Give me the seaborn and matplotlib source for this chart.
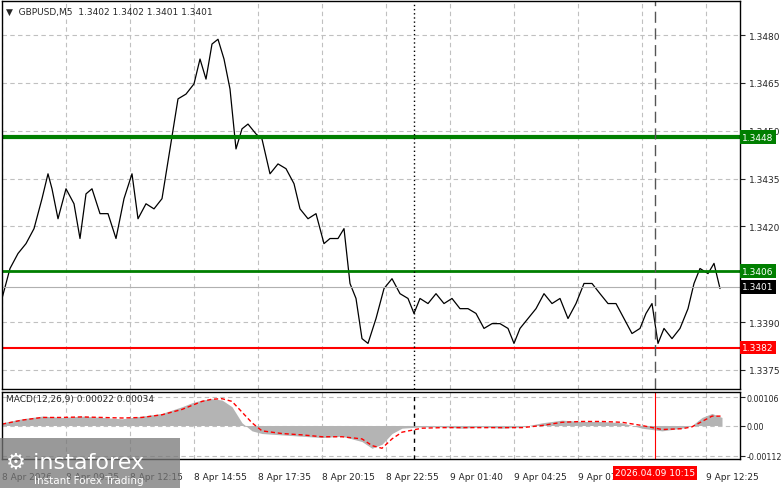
import matplotlib
matplotlib.use("Agg")
import matplotlib.pyplot as plt
import seaborn as sns
import pandas as pd
from matplotlib.patches import Rectangle

sns.set_style("white")
plt.rcParams['font.family'] = ['DejaVu Sans']

# price trace: bar index (5-min bars) and close
bars = [0,4,8,12,16,20,23,25,28,32,36,39,42,45,49,53,57,61,65,68,72,76,80,84,88,92,96,99,102,105,108,111,114,117,120,123,127,130,134,138,142,146,149,153,157,161,164,168,171,174,177,180,183,187,191,195,199,203,206,209,213,217,221,225,229,233,237,241,245,249,253,256,259,263,267,271,275,279,283,287,291,295,299,303,307,311,315,319,322,325,328,331,335,339,343,346,349,353,356,359]
close = [1.33974,1.34068,1.34115,1.34146,1.34193,1.34287,1.34365,1.34318,1.34224,1.34318,1.34271,1.34162,1.34302,1.34318,1.34240,1.34240,1.34162,1.34287,1.34365,1.34224,1.34271,1.34255,1.34287,1.34443,1.34600,1.34615,1.34647,1.34725,1.34662,1.34772,1.34787,1.34725,1.34631,1.34443,1.34506,1.34521,1.34490,1.34474,1.34365,1.34396,1.34381,1.34334,1.34255,1.34224,1.34240,1.34146,1.34162,1.34162,1.34193,1.34021,1.33974,1.33848,1.33833,1.33911,1.34005,1.34036,1.33989,1.33974,1.33927,1.33974,1.33958,1.33989,1.33958,1.33974,1.33942,1.33942,1.33927,1.33880,1.33895,1.33895,1.33880,1.33833,1.33880,1.33911,1.33942,1.33989,1.33958,1.33974,1.33911,1.33958,1.34021,1.34021,1.33989,1.33958,1.33958,1.33911,1.33864,1.33880,1.33927,1.33958,1.33833,1.33880,1.33848,1.33880,1.33942,1.34021,1.34068,1.34052,1.34084,1.34005]

macd_bars = [0,10,20,30,40,50,60,70,80,90,95,100,105,110,115,120,125,130,140,150,160,170,180,185,190,195,200,210,220,230,240,250,260,270,280,290,300,310,320,330,340,345,350,355,360]
macd_hist = [0.00010,0.00025,0.00035,0.00030,0.00035,0.00030,0.00025,0.00035,0.00045,0.00070,0.00085,0.00095,0.00100,0.00095,0.00070,0.00010,-0.00020,-0.00030,-0.00035,-0.00040,-0.00045,-0.00040,-0.00060,-0.00085,-0.00070,-0.00030,-0.00010,-0.00005,-0.00005,-0.00010,-0.00005,-0.00010,-0.00005,0.00010,0.00020,0.00015,0.00015,0.00010,-0.00010,-0.00020,-0.00010,0.00000,0.00030,0.00045,0.00030]
macd_signal = [0.00005,0.00020,0.00030,0.00030,0.00032,0.00030,0.00028,0.00030,0.00040,0.00060,0.00075,0.00090,0.00098,0.00100,0.00090,0.00050,0.00010,-0.00020,-0.00030,-0.00035,-0.00042,-0.00042,-0.00050,-0.00075,-0.00085,-0.00050,-0.00025,-0.00010,-0.00008,-0.00008,-0.00008,-0.00008,-0.00008,0.00000,0.00012,0.00015,0.00015,0.00012,0.00000,-0.00015,-0.00012,-0.00005,0.00015,0.00035,0.00035]

tick_bars = [0,32,64,96,128,160,192,224,256,288,320,352]
tick_labels = ["8 Apr 2026","8 Apr 09:35","8 Apr 12:15","8 Apr 14:55","8 Apr 17:35","8 Apr 20:15","8 Apr 22:55","9 Apr 01:40","9 Apr 04:25","9 Apr 07:05","","9 Apr 12:25"]
marker_label = "2026.04.09 10:15"
marker_bar = 326.5
price_ticks = [1.3375,1.3390,1.3420,1.3435,1.3450,1.3465,1.3480]
levels = [1.3448,1.3406,1.3382]
level_colors = ["#007f00","#007f00","#ff0000"]
level_widths = [3,2,1.5]
last_price = 1.3401

W,H = 781,489
fig = plt.figure(figsize=(W/100,H/100), dpi=100)
def ax_at(x0,y0,x1,y1):
    return fig.add_axes([x0/W, 1-y1/H, (x1-x0)/W, (y1-y0)/H])
ax = ax_at(2,2,740,390)
ax2 = ax_at(2,393,740,460)
xlim = (0,369)
for a in (ax,ax2):
    a.set_xlim(*xlim)
    a.set_xticks(tick_bars)
    a.grid(True, axis='both', color='#c0c0c0', ls=(0,(4,3)), lw=0.8)
    a.tick_params(left=False, right=False, bottom=False, labelleft=False)
    for s in a.spines.values():
        s.set_color('black'); s.set_linewidth(1)

df = pd.DataFrame({"bar":bars,"close":close})
sns.lineplot(data=df, x="bar", y="close", ax=ax, color='black', lw=0.9)
ax.set_ylim(1.33690,1.34907)
ax.set_yticks(price_ticks)
ax.yaxis.tick_right()
ax.tick_params(labelright=True, labelsize=6.5, labelbottom=False, pad=3)
ax.set_xlabel(""); ax.set_ylabel("")
lab_kw = dict(va='center', ha='left', fontsize=6.5, color='white', clip_on=False)
for lv,c,w in zip(levels,level_colors,level_widths):
    ax.axhline(lv, color=c, lw=w)
    ax.text(1.003, lv, f"{lv:.4f}", transform=ax.get_yaxis_transform(),
            bbox=dict(boxstyle='square,pad=0.25', fc=c, ec='none'), **lab_kw)
ax.axhline(last_price, color='#b0b0b0', lw=0.8)
ax.text(1.003, last_price, f"{last_price:.4f}", transform=ax.get_yaxis_transform(),
        bbox=dict(boxstyle='square,pad=0.25', fc='black', ec='none'), **lab_kw)
ax.axvline(206, color='black', ls=(0,(1,2)), lw=1)
ax.axvline(marker_bar, color='#555555', ls=(0,(8,4)), lw=1)
ax.text(0.005, 0.985, "▼  GBPUSD,M5  1.3402 1.3402 1.3401 1.3401", transform=ax.transAxes, fontsize=6.5, va='top')

mdf = pd.DataFrame({"bar":macd_bars,"hist":macd_hist,"signal":macd_signal})
ax2.fill_between(mdf["bar"], 0, mdf["hist"], color='#b4b4b4', lw=0)
sns.lineplot(data=mdf, x="bar", y="signal", ax=ax2, color='red', lw=1, ls=(0,(3,2)))
ax2.set_ylim(-0.00125,0.00125)
ax2.set_yticks([-0.00112,0.0,0.00106])
ax2.set_yticklabels(["-0.00112","0.00","0.00106"])
ax2.yaxis.tick_right()
ax2.tick_params(axis='y', labelright=True, labelsize=5.8, pad=1)
ax2.tick_params(axis='x', labelbottom=True, labelsize=6.5, pad=6)
ax2.set_xticklabels(tick_labels)
ax2.set_xlabel(""); ax2.set_ylabel("")
for lbl in ax2.get_xticklabels():
    lbl.set_ha('left')
ax2.text(marker_bar, -0.14, marker_label, transform=ax2.get_xaxis_transform(), ha='center', va='top',
         fontsize=6.5, color='white', bbox=dict(boxstyle='square,pad=0.25', fc='red', ec='none'), clip_on=False)
ax2.axvline(206, color='black', ls=(0,(3,3)), lw=1)
ax2.axvline(marker_bar, color='red', lw=0.8)
ax2.text(0.005, 0.97, "MACD(12,26,9) 0.00022 0.00034", transform=ax2.transAxes, fontsize=6.5, va='top')

fig.patches.append(Rectangle((0,0), 180/W, 50/H, transform=fig.transFigure, fc='#777777', alpha=0.75, ec='none', zorder=10))
fig.text(6/W, 1-463/H, "⚙ instaforex", fontsize=16, color='white', zorder=11, va='center')
fig.text(34/W, 1-481/H, "Instant Forex Trading", fontsize=7.5, color='white', zorder=11, va='center')
fig.savefig("out.png", dpi=100)
